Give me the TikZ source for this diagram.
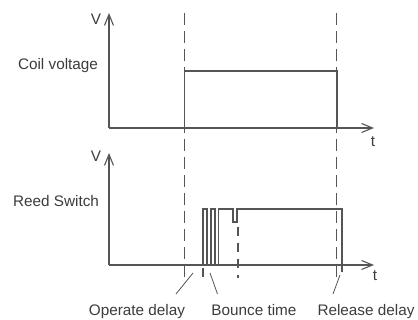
\documentclass[tikz,border=0pt]{standalone}
\usepackage{fontspec}
\setmainfont{Liberation Sans}
\usetikzlibrary{arrows.meta}
\definecolor{linegray}{HTML}{555555}
\definecolor{textgray}{HTML}{3C3C3C}
\tikzset{
  ln/.style={draw=linegray, line width=1.2pt},
  axis/.style={ln, -{Straight Barb[length=11pt,width=9pt,line width=1.1pt]}},
  dsh/.style={draw=linegray, line width=1.2pt, dash pattern=on 12pt off 6pt},
  thin leader/.style={draw=linegray, line width=0.8pt},
  lbl/.style={inner sep=0pt, anchor=base, text=textgray, font=\fontsize{15.3}{18}\selectfont}
}
\begin{document}
\begin{tikzpicture}[x=1pt, y=-1pt]
\useasboundingbox (0,0) rectangle (418,320);
% coordinates
\coordinate (o1) at (109,128);
\coordinate (v1) at (109,13);
\coordinate (t1) at (374,128);
\coordinate (o2) at (109,265);
\coordinate (v2) at (109,153);
\coordinate (t2) at (374,265);
% axes
\draw[axis] (o1) -- (v1);
\draw[axis] (o1) -- (t1);
\draw[axis] (o2) -- (v2);
\draw[axis] (o2) -- (t2);
% dashed markers
\coordinate (dA1) at (184.5,13); \coordinate (dA2) at (184.5,278);
\coordinate (dB1) at (336.5,13); \coordinate (dB2) at (336.5,278);
\coordinate (dC1) at (238,227); \coordinate (dC2) at (238,278);
\draw[dsh] (dA1) -- (dA2);
\draw[dsh] (dB1) -- (dB2);
\draw[dsh, dash pattern=on 9pt off 7pt] (dC1) -- (dC2);
% coil pulse
\draw[ln] (184.5,128) -- (184.5,71) -- (337,71) -- (337,128);
% reed switch pulse with bounces
\draw[ln] (203,265) -- (203,209) -- (207,209) -- (207,265) -- (211,265) -- (211,209)
  -- (215,209) -- (215,265) -- (218.5,265) -- (218.5,209) -- (233,209) -- (233,222)
  -- (237,222) -- (237,209) -- (342,209) -- (342,272);
% ticks below axis
\draw[ln] (203,268) -- (203,277);
% leaders
\coordinate (la1) at (193,273); \coordinate (la2) at (176,294);
\coordinate (lb1) at (210,273); \coordinate (lb2) at (217.5,294);
\coordinate (lc1) at (340,275); \coordinate (lc2) at (333,294);
\draw[thin leader] (la1) -- (la2);
\draw[thin leader] (lb1) -- (lb2);
\draw[thin leader] (lc1) -- (lc2);
% labels
\node[lbl] (V1) at (96,25) {V};
\node[lbl] (V2) at (96,162) {V};
\node[lbl] (T1) at (373,147) {t};
\node[lbl] (T2) at (375,281) {t};
\node[lbl] (coil) at (58,70) {Coil voltage};
\node[lbl] (reed) at (56,206.5) {Reed Switch};
\node[lbl] (op) at (137,316) {Operate delay};
\node[lbl] (bt) at (254,316) {Bounce time};
\node[lbl] (rd) at (366,316) {Release delay};
\end{tikzpicture}
\end{document}
